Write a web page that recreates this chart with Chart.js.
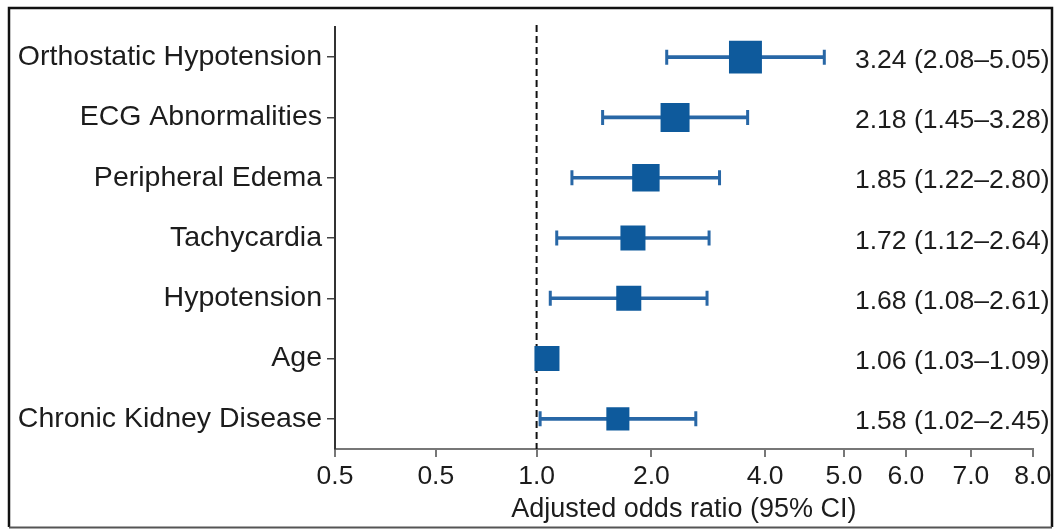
<!DOCTYPE html>
<html>
<head>
<meta charset="utf-8">
<script src="https://cdn.jsdelivr.net/npm/chart.js@4"></script>
<style>
  body { margin: 0; background: #fff; }
  canvas { display: block; }
</style>
</head>
<body>
<canvas id="forest" width="1056" height="529"></canvas>
<script>
const categories = ['Orthostatic Hypotension', 'ECG Abnormalities', 'Peripheral Edema', 'Tachycardia', 'Hypotension', 'Age', 'Chronic Kidney Disease'];
const oddsRatio = [3.24, 2.18, 1.85, 1.72, 1.68, 1.06, 1.58];
const ciLow = [2.08, 1.45, 1.22, 1.12, 1.08, 1.03, 1.02];
const ciHigh = [5.05, 3.28, 2.80, 2.64, 2.61, 1.09, 2.45];
const tickLabels = ['0.5', '0.5', '1.0', '2.0', '4.0', '5.0', '6.0', '7.0', '8.0'];

// the printed axis is not a true log axis, so ticks sit where the original put them
const tickAt = [0.3215, 0.567, 1, 1.908, 3.62, 5.642, 7.994, 11.52, 16.32];
const boxRadius = [23.3, 20.5, 19.4, 17.7, 17.7, 17.7, 16.3];

const boxColor = '#0e5a9c';
const lineColor = '#2867a6';
const textColor = '#1c1c1c';
const fontFam = '"Liberation Sans", Arial, sans-serif';

const refLine = {
	id: 'refLine',
	beforeDatasetsDraw(chart) {
		const ctx = chart.ctx, x = chart.scales.x.getPixelForValue(1), a = chart.chartArea;
		ctx.save();
		ctx.strokeStyle = '#111';
		ctx.lineWidth = 2;
		ctx.setLineDash([7, 4]);
		ctx.beginPath();
		ctx.moveTo(x, a.top - 2);
		ctx.lineTo(x, a.bottom);
		ctx.stroke();
		ctx.restore();
	}
};

const sideText = {
	id: 'sideText',
	afterDraw(chart) {
		const ctx = chart.ctx, ys = chart.scales.y;
		ctx.save();
		ctx.font = '26.5px ' + fontFam;
		ctx.fillStyle = textColor;
		ctx.textAlign = 'left';
		ctx.textBaseline = 'alphabetic';
		categories.forEach((c, i) => {
			let s = oddsRatio[i].toFixed(2) + ' (' + ciLow[i].toFixed(2) + '\u2013' + ciHigh[i].toFixed(2) + ')';
			ctx.fillText(s, 855, ys.getPixelForValue(i) + 10.5);
		});
		// frame round the figure
		ctx.lineWidth = 2.5;
		ctx.strokeStyle = '#111';
		ctx.beginPath();
		ctx.moveTo(9, 527);
		ctx.lineTo(9, 8);
		ctx.lineTo(1052, 8);
		ctx.lineTo(1052, 527);
		ctx.stroke();
		ctx.strokeStyle = '#555';
		ctx.lineWidth = 2;
		ctx.beginPath();
		ctx.moveTo(9, 527.5);
		ctx.lineTo(1052, 527.5);
		ctx.stroke();
		ctx.restore();
	}
};

const ctx = document.getElementById('forest').getContext('2d');
new Chart(ctx, {
	type: 'bar',
	data: {
		labels: categories,
		datasets: [
			{
				type: 'line',
				data: categories.map((c, i) => ({ x: oddsRatio[i], y: c })),
				showLine: false,
				pointStyle: 'rect',
				pointRadius: boxRadius,
				pointHoverRadius: boxRadius,
				pointBackgroundColor: boxColor,
				pointBorderWidth: 0,
			},
			{
				type: 'line',
				data: categories.map((c, i) => ({ x: ciLow[i], y: c })),
				showLine: false,
				pointStyle: 'line',
				pointRotation: 90,
				pointRadius: 7.5,
				pointBorderWidth: 3,
				pointBorderColor: lineColor,
			},
			{
				type: 'line',
				data: categories.map((c, i) => ({ x: ciHigh[i], y: c })),
				showLine: false,
				pointStyle: 'line',
				pointRotation: 90,
				pointRadius: 7.5,
				pointBorderWidth: 3,
				pointBorderColor: lineColor,
			},
			{
				type: 'bar',
				data: categories.map((c, i) => [ciLow[i], ciHigh[i]]),
				backgroundColor: lineColor,
				barThickness: 3,
			},
		],
	},
	options: {
		indexAxis: 'y',
		responsive: false,
		animation: false,
		layout: { padding: { top: 27, right: 22, left: 0, bottom: 0 } },
		plugins: {
			legend: { display: false },
			tooltip: { enabled: false },
		},
		scales: {
			x: {
				type: 'logarithmic',
				position: 'bottom',
				min: tickAt[0],
				max: tickAt[tickAt.length - 1],
				bounds: 'data',
				afterBuildTicks: (scale) => {
					scale.ticks = tickAt.map((v) => ({ value: v }));
				},
				afterFit: (scale) => { scale.height = 80; },
				grid: { drawOnChartArea: false, tickLength: 8, color: '#777', lineWidth: 2 },
				border: { color: '#777', width: 2 },
				ticks: {
					autoSkip: false,
					maxRotation: 0,
					padding: 4,
					color: textColor,
					font: { size: 26.5, family: fontFam },
					callback: (v, i) => tickLabels[i],
				},
				title: {
					display: true,
					text: 'Adjusted odds ratio (95% CI)',
					color: textColor,
					font: { size: 27, family: fontFam },
					padding: { top: 0, bottom: 3 },
				},
			},
			y: {
				type: 'category',
				offset: true,
				afterFit: (scale) => { scale.width = 335; },
				grid: { drawOnChartArea: false, offset: false, tickLength: 8, color: '#444', lineWidth: 1.5 },
				border: { color: '#333', width: 2 },
				ticks: {
					padding: 5,
					color: textColor,
					font: { size: 28.5, family: fontFam },
				},
			},
		},
	},
	plugins: [refLine, sideText],
});
</script>
</body>
</html>
